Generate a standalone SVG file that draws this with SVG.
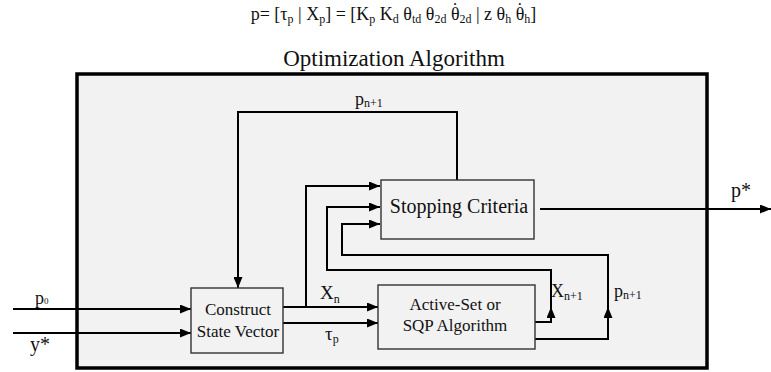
<svg xmlns="http://www.w3.org/2000/svg" width="771" height="372" viewBox="0 0 771 372" font-family="'Liberation Serif', 'DejaVu Serif', serif">
<style>
text{font-family:'Liberation Serif','DejaVu Serif',serif;fill:#111}
.box{fill:#f2f2f2;stroke:#333;stroke-width:1.4}
.ln{fill:none;stroke:#000;stroke-width:2}
.sub{font-size:12px}
.fs{font-size:12px}
</style>
<defs>
<marker id="ah" markerUnits="userSpaceOnUse" markerWidth="12" markerHeight="9" refX="11" refY="4.5" orient="auto">
<path d="M0,0 L11,4.5 L0,9 z" fill="#000"/>
</marker>
</defs>
<rect width="771" height="372" fill="#fff"/>
<text x="393.5" y="20" font-size="18" text-anchor="middle">p= [τ<tspan class="fs" dy="3">p</tspan><tspan dy="-3"> | X</tspan><tspan class="fs" dy="3">p</tspan><tspan dy="-3">] = [K</tspan><tspan class="fs" dy="3">p</tspan><tspan dy="-3"> K</tspan><tspan class="fs" dy="3">d</tspan><tspan dy="-3"> θ</tspan><tspan class="fs" dy="3">td</tspan><tspan dy="-3"> θ</tspan><tspan class="fs" dy="3">2d</tspan><tspan dy="-3"> θ</tspan><tspan dx="-7.5" dy="-4">˙</tspan><tspan class="fs" dx="1.5" dy="7">2d</tspan><tspan dy="-3"> | z θ</tspan><tspan class="fs" dy="3">h</tspan><tspan dy="-3"> θ</tspan><tspan dx="-7.5" dy="-4">˙</tspan><tspan class="fs" dx="1.5" dy="7">h</tspan><tspan dy="-3">]</tspan></text>
<text x="394" y="66" font-size="23" text-anchor="middle">Optimization Algorithm</text>
<rect id="outer" x="77" y="74" width="630" height="294" fill="#f2f2f2" stroke="#000" stroke-width="3.5"/>
<g id="connectors">
<path class="ln" d="M13,309 H191" marker-end="url(#ah)"/>
<path class="ln" d="M13,333 H191" marker-end="url(#ah)"/>
<path class="ln" d="M283,307 H378" marker-end="url(#ah)"/>
<path class="ln" d="M283,323 H378" marker-end="url(#ah)"/>
<path class="ln" d="M306,307 V186 H380" marker-end="url(#ah)"/>
<path class="ln" d="M457,180 V112 H238 V288" marker-end="url(#ah)"/>
<path class="ln" d="M535,322 H551 V307" marker-end="url(#ah)"/>
<path class="ln" d="M551,309 V270 H327 V207 H380" marker-end="url(#ah)"/>
<path class="ln" d="M535,339 H608 V307" marker-end="url(#ah)"/>
<path class="ln" d="M608,309 V255 H342 V224 H380" marker-end="url(#ah)"/>
<path class="ln" d="M540,209 H771" marker-end="url(#ah)"/>
</g>
<g id="stopping">
<rect class="box" x="381" y="180" width="153" height="59"/>
<text x="459" y="213" font-size="20" text-anchor="middle">Stopping Criteria</text>
</g>
<g id="construct">
<rect class="box" x="191" y="288" width="92" height="65" stroke="#555"/>
<text x="238" y="315" font-size="17" text-anchor="middle">Construct</text>
<text x="238" y="337" font-size="17" text-anchor="middle">State Vector</text>
</g>
<g id="activeset">
<rect class="box" x="378" y="285" width="157" height="64" stroke="#555"/>
<text x="455" y="310" font-size="17" text-anchor="middle">Active-Set or</text>
<text x="455" y="331" font-size="17" text-anchor="middle">SQP Algorithm</text>
</g>
<g id="labels">
<text x="35" y="304" font-size="18">p<tspan font-size="9">0</tspan></text>
<text x="30" y="351" font-size="20">y*</text>
<text x="320" y="299" font-size="19">X<tspan class="sub" dy="4">n</tspan></text>
<text x="325" y="340" font-size="19">τ<tspan class="sub" dy="3">p</tspan></text>
<text x="355" y="105" font-size="18">p<tspan class="sub" dy="2">n+1</tspan></text>
<text x="551" y="297" font-size="18">X<tspan class="sub" dy="3">n+1</tspan></text>
<text x="614" y="297" font-size="18">p<tspan class="sub" dy="2">n+1</tspan></text>
<text x="731" y="197" font-size="20">p*</text>
</g>
</svg>
